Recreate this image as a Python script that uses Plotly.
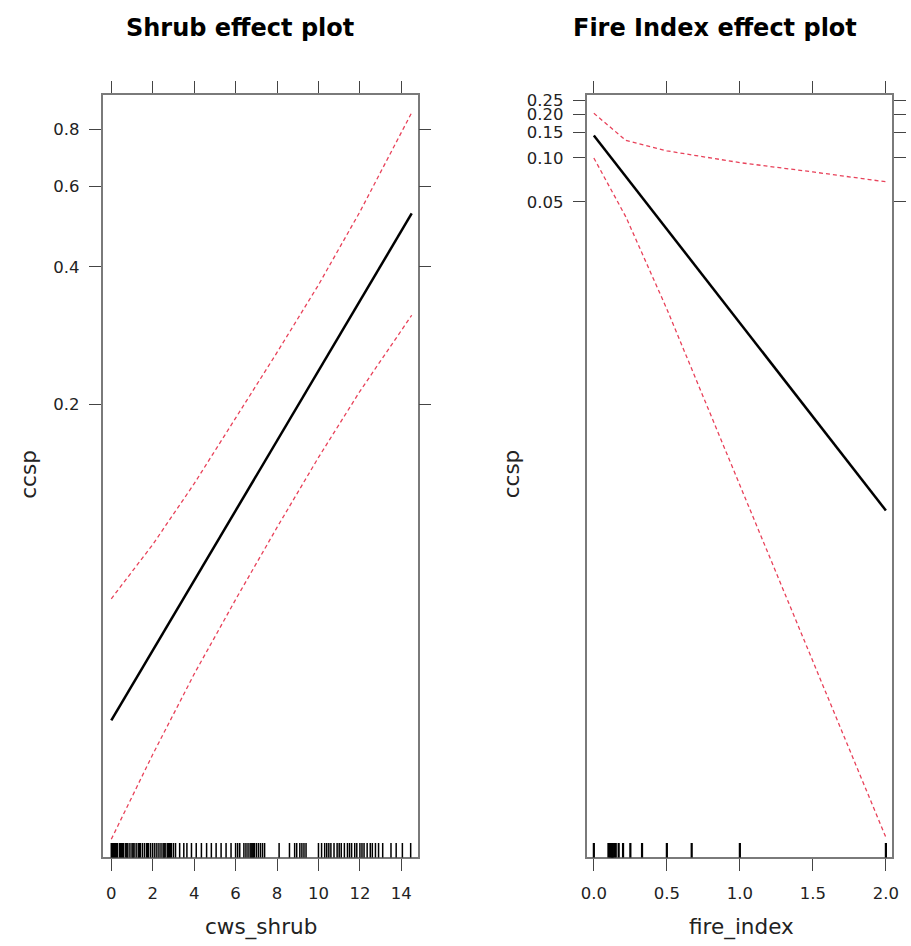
import plotly.graph_objects as go

# ---------------- data ----------------
shrub_x = [0, 2, 4, 6, 8, 10, 12, 14.5]
shrub_fit = [0.0406, 0.0578, 0.0823, 0.1171, 0.1665, 0.2369, 0.3371, 0.5237]
shrub_upper = [0.0750, 0.0986, 0.1340, 0.1864, 0.2598, 0.3652, 0.5281, 0.8710]
shrub_lower = [0.0223, 0.0342, 0.0513, 0.0747, 0.1075, 0.1530, 0.2136, 0.3134]

fire_x = [0, 0.22, 0.5, 1.0, 1.5, 2.0]
fire_fit = [0.1429, 0.0743, 0.0324, 0.00733, 0.00166, 0.000376]
fire_upper = [0.203, 0.132, 0.112, 0.0929, 0.0802, 0.0686]
fire_lower = [0.100, 0.0392, 0.00914, 0.000561, 0.0000344, 0.00000212]

shrub_rug = [0, 0.05, 0.1, 0.15, 0.2, 0.25, 0.3, 0.4, 0.45, 0.5, 0.55, 0.6, 0.7, 0.75,
             0.8, 0.9, 1.0, 1.05, 1.1, 1.2, 1.3, 1.35, 1.4, 1.5, 1.6, 1.7, 1.75, 1.8,
             1.9, 2.0, 2.1, 2.2, 2.3, 2.4, 2.5, 2.55, 2.6, 2.7, 2.75, 2.8, 2.85, 2.9,
             3.0, 3.1, 3.3, 3.5, 3.65, 3.87, 4.1, 4.35, 4.6, 4.83, 5.06, 5.3, 5.54,
             5.78, 6.0, 6.1, 6.2, 6.4, 6.5, 6.6, 6.7, 6.75, 6.8, 6.85, 6.9, 7.0, 7.1,
             7.2, 7.3, 7.4, 8.1, 8.6, 8.85, 8.95, 9.1, 9.2, 9.3, 9.4, 10.0, 10.15,
             10.3, 10.4, 10.5, 10.6, 10.75, 10.9, 11.0, 11.1, 11.25, 11.4, 11.5, 11.6,
             11.75, 11.85, 12.0, 12.1, 12.2, 12.35, 12.5, 12.6, 12.75, 12.9, 13.1,
             13.5, 13.75, 14.05, 14.45]
fire_rug = [0, 0.1, 0.11, 0.12, 0.125, 0.13, 0.14, 0.15, 0.17, 0.2, 0.25, 0.33,
            0.5, 0.67, 1.0, 2.0]

shrub_xticks = [0, 2, 4, 6, 8, 10, 12, 14]
shrub_yticks = [0.2, 0.4, 0.6, 0.8]
fire_xticks = [0, 0.5, 1.0, 1.5, 2.0]
fire_xticktext = ["0.0", "0.5", "1.0", "1.5", "2.0"]
fire_yticks = [0.05, 0.10, 0.15, 0.20, 0.25]
fire_yticktext = ["0.05", "0.10", "0.15", "0.20", "0.25"]

titles = ["Shrub effect plot", "Fire Index effect plot"]
xtitles = ["cws_shrub", "fire_index"]
ytitle = "ccsp"

# ---------------- figure ----------------
W, H = 911, 946
FONT = "DejaVu Sans"
RED = "#e8425a"
FRAME = "#7a7a7a"

fig = go.Figure()

def add_panel(xs, fit, up, lo, xa, ya):
    fig.add_trace(go.Scatter(x=xs, y=up, mode="lines", xaxis=xa, yaxis=ya,
                             line=dict(color=RED, width=1.3, dash="4px,3px")))
    fig.add_trace(go.Scatter(x=xs, y=lo, mode="lines", xaxis=xa, yaxis=ya,
                             line=dict(color=RED, width=1.3, dash="4px,3px")))
    fig.add_trace(go.Scatter(x=xs, y=fit, mode="lines", xaxis=xa, yaxis=ya,
                             line=dict(color="black", width=2.5)))

add_panel(shrub_x, shrub_fit, shrub_upper, shrub_lower, "x", "y")
add_panel(fire_x, fire_fit, fire_upper, fire_lower, "x2", "y2")

shapes = []
rug_h = 14.5 / 766
for v in shrub_rug:
    shapes.append(dict(type="line", xref="x", yref="y domain", x0=v, x1=v, y0=0, y1=rug_h,
                       line=dict(color="black", width=1.5)))
for v in fire_rug:
    shapes.append(dict(type="line", xref="x2", yref="y2 domain", x0=v, x1=v, y0=0, y1=rug_h,
                       line=dict(color="black", width=2.2)))

def px_x(p):
    return p / W

def px_y(p):
    return 1 - p / H

axis_common = dict(showgrid=False, zeroline=False, showline=True, linecolor=FRAME,
                   linewidth=1.6, mirror="ticks", ticks="outside", ticklen=12,
                   tickcolor="#444", tickwidth=1.2,
                   tickfont=dict(family=FONT, size=16.5, color="#222"))

y_dom = [px_y(857), px_y(91)]

fig.update_layout(
    width=W, height=H, margin=dict(l=0, r=0, t=0, b=0),
    paper_bgcolor="white", plot_bgcolor="white", showlegend=False,
    xaxis=dict(domain=[px_x(98), px_x(417)], range=[-0.414, 14.78],
               tickvals=shrub_xticks, ticklabelstandoff=8, anchor="y", **axis_common),
    yaxis=dict(domain=y_dom, type="log", range=[-1.6914, -0.0206],
               tickvals=shrub_yticks, ticktext=[str(t) for t in shrub_yticks],
               ticklabelstandoff=6, anchor="x", **axis_common),
    xaxis2=dict(domain=[px_x(588.3), px_x(898.3)], range=[-0.05, 2.045],
                tickvals=fire_xticks, ticktext=fire_xticktext, ticklabelstandoff=8,
                anchor="y2", **axis_common),
    yaxis2=dict(domain=y_dom, type="log", range=[-5.811, -0.564],
                tickvals=fire_yticks, ticktext=fire_yticktext, ticklabelstandoff=6,
                anchor="x2", **axis_common),
    shapes=shapes,
)

ann = []
ann.append(dict(text=titles[0], x=px_x(237), y=px_y(24)))
ann.append(dict(text=titles[1], x=px_x(718), y=px_y(24)))
for a in ann:
    a.update(xref="paper", yref="paper", showarrow=False, xanchor="center", yanchor="middle",
             font=dict(family=FONT, size=24, color="black", weight="bold"))
ann2 = [
    dict(text=xtitles[0], x=px_x(258.5), y=px_y(927)),
    dict(text=xtitles[1], x=px_x(745), y=px_y(927)),
    dict(text=ytitle, x=px_x(22), y=px_y(472), textangle=-90),
    dict(text=ytitle, x=px_x(512), y=px_y(472), textangle=-90),
]
for a in ann2:
    a.update(xref="paper", yref="paper", showarrow=False, xanchor="center", yanchor="middle",
             font=dict(family=FONT, size=21.5, color="#222"))
fig.update_layout(annotations=ann + ann2)

fig.write_html("out.html", config={"displayModeBar": False},
               post_script="document.body.style.margin='0';document.body.style.overflow='hidden';")
